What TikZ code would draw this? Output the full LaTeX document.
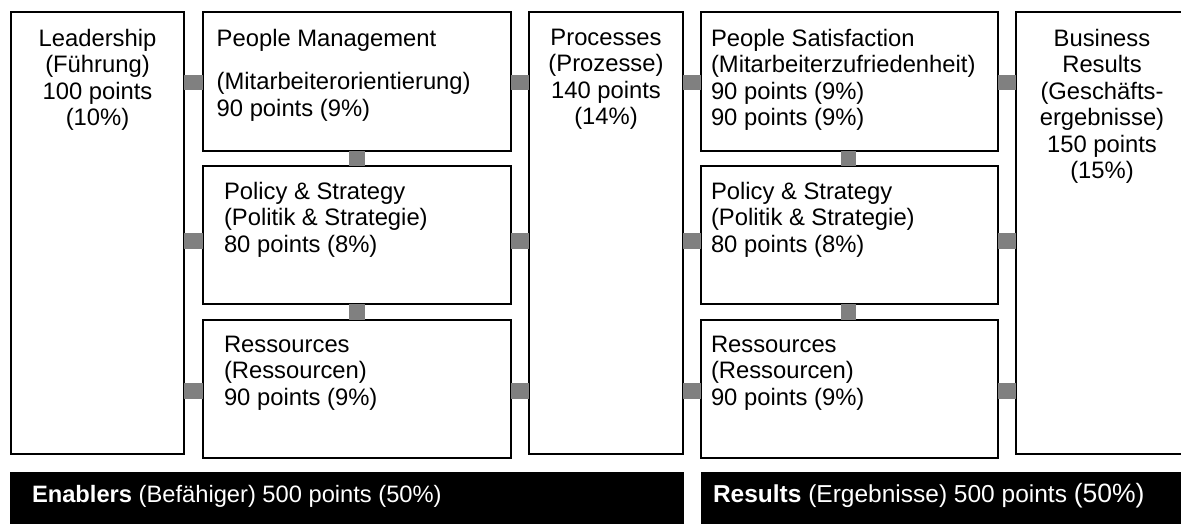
\documentclass[tikz,border=0pt]{standalone}
\usepackage{fontspec}
\setmainfont{Liberation Sans}
\definecolor{conngray}{HTML}{808080}
\begin{document}
\begin{tikzpicture}[x=1pt,y=-1pt,
  box/.style={draw=black, line width=1.4pt, fill=white, rectangle, inner sep=0pt, outer sep=0pt, anchor=north west},
  bar/.style={fill=black, rectangle, inner sep=0pt, outer sep=0pt, anchor=north west},
  conn/.style={draw=conngray, line width=15.5pt, line cap=butt},
  txt/.style={font=\fontsize{23.8}{26.5}\selectfont, inner sep=0pt, outer sep=0pt, anchor=north west, align=left},
  ctxt/.style={txt, anchor=north, align=center},
  bartxt/.style={font=\fontsize{23.7}{26}\selectfont, text=white, inner sep=0pt, outer sep=0pt, anchor=base west}
]
\useasboundingbox (0,0) rectangle (1181,524);
% boxes
\node[box, minimum width=173pt, minimum height=442pt] (L) at (11,12) {};
\node[box, minimum width=308pt, minimum height=139pt] (PM) at (203,12) {};
\node[box, minimum width=308pt, minimum height=138pt] (PS) at (203,166) {};
\node[box, minimum width=308pt, minimum height=138pt] (RS) at (203,320) {};
\node[box, minimum width=154pt, minimum height=442pt] (PR) at (529,12) {};
\node[box, minimum width=297pt, minimum height=139pt] (SA) at (701,12) {};
\node[box, minimum width=297pt, minimum height=138pt] (PS2) at (701,166) {};
\node[box, minimum width=297pt, minimum height=138pt] (RS2) at (701,320) {};
\node[box, minimum width=172pt, minimum height=442pt] (BR) at (1016,12) {};
% bars
\node[bar, minimum width=674pt, minimum height=60pt] (EN) at (10,472) {};
\node[bar, minimum width=490pt, minimum height=60pt] (RE) at (701,472) {};
% connectors
\draw[conn] ([yshift=-1pt]PM.west -| L.east) -- ([yshift=-1pt]PM.west);
\draw[conn] ([yshift=-6pt]PS.west -| L.east) -- ([yshift=-6pt]PS.west);
\draw[conn] ([yshift=-2pt]RS.west -| L.east) -- ([yshift=-2pt]RS.west);
\draw[conn] ([yshift=-1pt]PM.east) -- ([yshift=-1pt]PM.east -| PR.west);
\draw[conn] ([yshift=-6pt]PS.east) -- ([yshift=-6pt]PS.east -| PR.west);
\draw[conn] ([yshift=-2pt]RS.east) -- ([yshift=-2pt]RS.east -| PR.west);
\draw[conn] ([yshift=-1pt]SA.west -| PR.east) -- ([yshift=-1pt]SA.west);
\draw[conn] ([yshift=-6pt]PS2.west -| PR.east) -- ([yshift=-6pt]PS2.west);
\draw[conn] ([yshift=-2pt]RS2.west -| PR.east) -- ([yshift=-2pt]RS2.west);
\draw[conn] ([yshift=-1pt]SA.east) -- ([yshift=-1pt]SA.east -| BR.west);
\draw[conn] ([yshift=-6pt]PS2.east) -- ([yshift=-6pt]PS2.east -| BR.west);
\draw[conn] ([yshift=-2pt]RS2.east) -- ([yshift=-2pt]RS2.east -| BR.west);
\draw[conn] (PM.south) -- (PS.north);
\draw[conn] (PS.south) -- (RS.north);
\draw[conn] ([xshift=-1pt]SA.south) -- ([xshift=-1pt]PS2.north);
\draw[conn] ([xshift=-1pt]PS2.south) -- ([xshift=-1pt]RS2.north);
% texts
\node[ctxt] (tL) at ([yshift=-17pt]L.north) {Leadership\\(Führung)\\100 points\\(10\%)};
\node[txt] (tPM) at ([shift={(13.7pt,-17pt)}]PM.north west) {People Management\\[17pt](Mitarbeiterorientierung)\\90 points (9\%)};
\node[txt] (tPS) at ([shift={(21pt,-16pt)}]PS.north west) {Policy \& Strategy\\(Politik \& Strategie)\\80 points (8\%)};
\node[txt] (tRS) at ([shift={(21pt,-16pt)}]RS.north west) {Ressources\\(Ressourcen)\\90 points (9\%)};
\node[ctxt] (tPR) at ([yshift=-17pt]PR.north) {Processes\\(Prozesse)\\140 points\\(14\%)};
\node[txt] (tSA) at ([shift={(10pt,-17pt)}]SA.north west) {People Satisfaction\\(Mitarbeiterzufriedenheit)\\90 points (9\%)\\90 points (9\%)};
\node[txt] (tPS2) at ([shift={(10pt,-16pt)}]PS2.north west) {Policy \& Strategy\\(Politik \& Strategie)\\80 points (8\%)};
\node[txt] (tRS2) at ([shift={(10pt,-16pt)}]RS2.north west) {Ressources\\(Ressourcen)\\90 points (9\%)};
\node[ctxt] (tBR) at ([yshift=-17pt]BR.north) {Business\\Results\\(Geschäfts-\\ergebnisse)\\150 points\\(15\%)};
\node[bartxt] (tEN) at ([shift={(22pt,-30pt)}]EN.north west) {\textbf{Enablers} (Befähiger) 500 points (50\%)};
\node[bartxt, font=\fontsize{24.5}{27}\selectfont] (tRE) at ([shift={(12pt,-30pt)}]RE.north west) {\textbf{Results} (Ergebnisse) 500 points {\fontsize{26.5}{28}\selectfont(50\%)}};
\end{tikzpicture}
\end{document}
